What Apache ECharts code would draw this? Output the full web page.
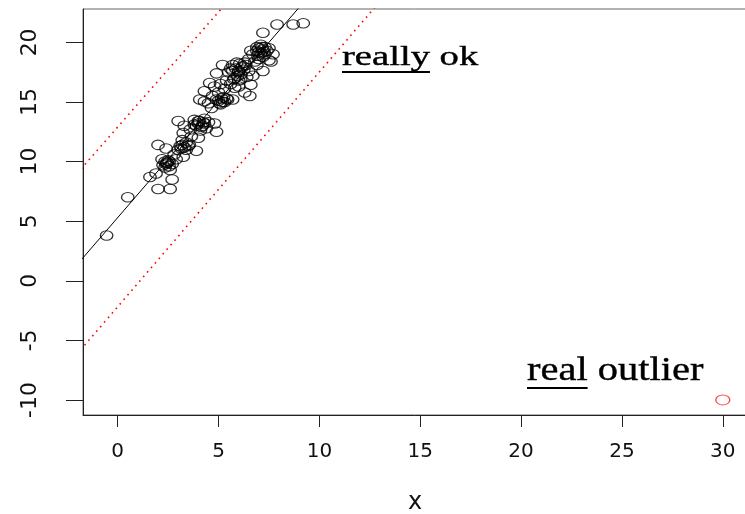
<!DOCTYPE html>
<html>
<head>
<meta charset="utf-8">
<script src="https://cdn.jsdelivr.net/npm/echarts@6/dist/echarts.min.js"></script>
<style>
html,body{margin:0;padding:0;background:#fff;}
#chart{width:745px;height:514px;}
</style>
</head>
<body>
<div id="chart"></div>
<script>
// ---- data ----
const xTicks = [0, 5, 10, 15, 20, 25, 30];
const yTicks = [-10, -5, 0, 5, 10, 15, 20];

const pointsX = [
  -0.55, 0.5, 1.6, 2.0, 2.6, 2.7, 1.9, 2.25, 2.45, 2.55,
  2.35, 2.6, 2.2, 2.0, 2.4, 2.8, 3.1, 3.25, 3.4, 3.9,
  3.0, 2.9, 3.2, 3.65, 3.25, 3.0, 3.3, 3.6, 3.8, 4.0,
  4.2, 4.4, 4.1, 4.5, 4.8, 4.9, 3.8, 4.3, 3.55, 4.0,
  4.3, 4.7, 5.05, 4.65, 4.9, 5.2, 5.4, 5.7, 4.07, 4.3,
  4.56, 4.8, 5.1, 5.3, 5.6, 5.8, 6.0, 6.3, 6.55, 6.6,
  4.9, 5.2, 5.7, 5.5, 5.8, 6.0, 6.2, 6.1, 6.4, 6.3,
  5.9, 6.5, 6.0, 5.4, 5.6, 6.7, 6.5, 6.7, 6.9, 7.0,
  7.2, 7.4, 7.1, 6.8, 7.5, 7.6, 7.3, 7.0, 6.6, 7.2,
  7.7, 7.2, 7.9, 8.7, 9.2, 6.9, 5.0, 4.5, 2.7, 7.5,
  2.4, 2.5, 2.35, 2.55, 2.45, 3.15, 3.3, 3.4, 3.2, 3.5,
  3.9, 4.0, 4.15, 4.3, 4.05, 4.25, 5.0, 5.15, 5.3, 5.1,
  5.45, 5.25, 5.7, 5.85, 6.0, 6.15, 6.25, 5.95, 6.1, 5.75,
  6.35, 6.05, 6.9, 7.0, 7.1, 7.2, 7.3, 6.95, 7.15, 7.25
];
const pointsY = [
  3.8, 7.0, 8.7, 7.7, 7.7, 8.5, 9.0, 9.7, 9.9, 10.0,
  9.5, 9.3, 10.2, 11.4, 11.1, 10.6, 11.3, 10.4, 11.6, 10.9,
  11.0, 10.2, 11.8, 12.1, 12.4, 13.4, 13.0, 12.7, 13.1, 13.4,
  13.0, 12.8, 12.6, 13.3, 13.2, 12.5, 13.5, 13.6, 11.4, 12.0,
  15.05, 15.5, 14.9, 14.5, 15.2, 15.0, 15.3, 15.2, 15.2, 15.9,
  16.6, 16.3, 16.5, 16.1, 16.5, 16.2, 16.3, 15.8, 15.5, 16.45,
  17.4, 18.1, 18.1, 17.5, 17.0, 17.6, 18.0, 17.3, 17.1, 18.3,
  18.3, 17.6, 16.8, 16.8, 17.8, 17.2, 18.6, 19.0, 19.6, 19.2,
  18.8, 19.3, 19.8, 18.4, 18.5, 18.4, 19.6, 18.6, 19.3, 17.6,
  19.0, 20.8, 21.5, 21.5, 21.6, 18.1, 15.8, 14.9, 9.8, 19.5,
  9.8, 10.1, 10.0, 9.6, 9.9, 11.1, 11.2, 11.0, 11.4, 11.3,
  13.0, 13.2, 12.9, 13.2, 13.4, 13.3, 15.1, 15.3, 15.0, 14.8,
  15.2, 15.4, 17.6, 17.8, 17.5, 17.9, 17.7, 17.2, 16.9, 16.9,
  18.1, 18.2, 19.3, 19.5, 19.1, 19.4, 19.0, 18.9, 19.6, 19.2
];
const outlierX = [30];
const outlierY = [-10];

// line endpoints (data coordinates, clipped by the axes)
const fitLine   = [[-3, -0.58], [12, 28.82]];
const upperBand = [[-3, 7.11],  [12, 36.06]];
const lowerBand = [[-3, -8.09], [16, 29.34]];

// ---- chart ----
const chart = echarts.init(document.getElementById('chart'));
const pts = pointsX.map((x, i) => [x, pointsY[i]]);
const outl = outlierX.map((x, i) => [x, outlierY[i]]);

const axisColor = '#222';

function measure(text, font) {
  const c = document.createElement('canvas').getContext('2d');
  c.font = font;
  return c.measureText(text).width;
}

const ann1 = {size: 28, sx: 1.38, x: 342, base: 67};
const ann2 = {size: 34, sx: 1.19, x: 527, base: 383};
const serif = '"Liberation Serif", "DejaVu Serif", serif';

function annotation(a, underlined, rest) {
  const font = a.size + 'px ' + serif;
  const uw = measure(underlined, font) * a.sx;
  return {
    type: 'group',
    x: a.x,
    y: a.base,
    children: [
      {
        type: 'text',
        scaleX: a.sx,
        style: {
          text: underlined + ' ' + rest,
          x: 0,
          y: -0.34 * a.size,
          fontFamily: serif,
          fontSize: a.size,
          fill: '#000',
          stroke: '#000',
          lineWidth: 0.4,
          align: 'left',
          verticalAlign: 'middle'
        }
      },
      {
        type: 'rect',
        shape: {x: 0, y: 4, width: uw, height: 2},
        style: {fill: '#000'}
      }
    ]
  };
}

const option = {
  backgroundColor: '#fff',
  animation: false,
  grid: {left: 83, top: 9, right: -2, bottom: 99, show: true, borderColor: '#666', borderWidth: 1,
         backgroundColor: 'transparent', outerBoundsMode: 'none', containLabel: false},
  xAxis: {
    type: 'value',
    min: -1.72,
    max: 31.2,
    splitLine: {show: false},
    axisLine: {onZero: false, lineStyle: {color: axisColor, width: 1}},
    axisTick: {customValues: xTicks, length: 12, lineStyle: {color: axisColor, width: 1}},
    axisLabel: {customValues: xTicks, margin: 27, fontFamily: 'DejaVu Sans', fontSize: 20, color: '#111'},
    name: 'x',
    nameLocation: 'middle',
    nameGap: 76,
    nameTextStyle: {fontFamily: 'DejaVu Sans', fontSize: 24, color: '#111'}
  },
  yAxis: {
    type: 'value',
    min: -11.26,
    max: 22.8,
    splitLine: {show: false},
    axisLine: {onZero: false, lineStyle: {color: axisColor, width: 1}},
    axisTick: {customValues: yTicks, length: 17, lineStyle: {color: axisColor, width: 1}},
    axisLabel: {customValues: yTicks, rotate: 90, margin: 42, fontFamily: 'DejaVu Sans', fontSize: 22, color: '#111'}
  },
  series: [
    {
      type: 'scatter',
      data: pts,
      symbol: 'circle',
      symbolSize: [12.5, 9.5],
      itemStyle: {color: 'transparent', borderColor: '#000', borderWidth: 1.2},
      silent: true,
      z: 3
    },
    {
      type: 'scatter',
      data: outl,
      symbol: 'circle',
      symbolSize: [14, 10],
      itemStyle: {color: 'transparent', borderColor: '#ff2020', borderWidth: 1.2},
      silent: true,
      z: 3
    },
    {
      type: 'line',
      data: fitLine,
      showSymbol: false,
      symbol: 'none',
      lineStyle: {color: '#000', width: 1},
      clip: true,
      silent: true,
      z: 4
    },
    {
      type: 'line',
      data: upperBand,
      symbol: 'none',
      lineStyle: {color: '#ff0000', width: 1.6, type: [1.6, 4.4]},
      clip: true,
      silent: true,
      z: 4
    },
    {
      type: 'line',
      data: lowerBand,
      symbol: 'none',
      lineStyle: {color: '#ff0000', width: 1.6, type: [1.6, 4.4]},
      clip: true,
      silent: true,
      z: 4
    }
  ],
  graphic: [
    annotation(ann1, 'really', 'ok'),
    annotation(ann2, 'real', 'outlier')
  ]
};
chart.setOption(option);
</script>
</body>
</html>
